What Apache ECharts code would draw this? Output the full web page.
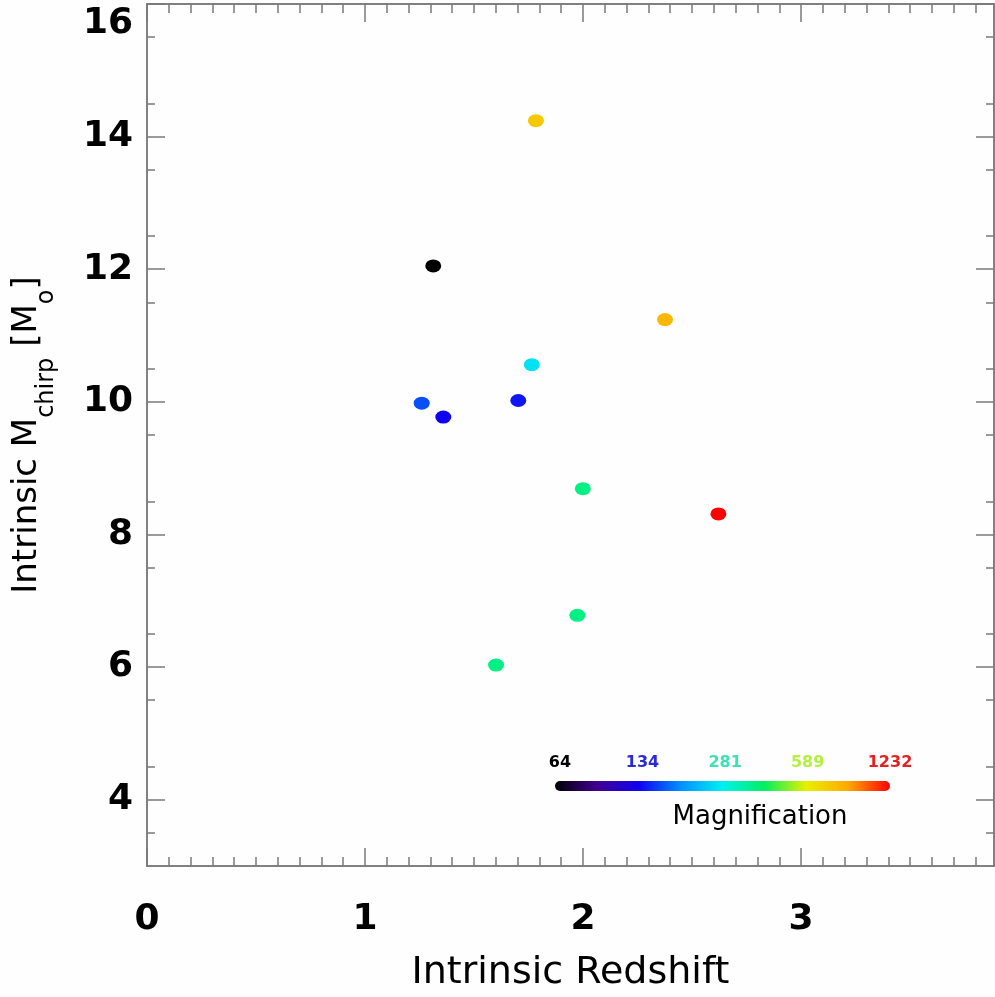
<!DOCTYPE html>
<html><head><meta charset="utf-8">
<script src="https://cdn.jsdelivr.net/npm/echarts@6/dist/echarts.min.js"></script>
<style>html,body{margin:0;padding:0;background:#fdfefd;}#c{width:995px;height:997px;}</style>
</head><body><div id="c"></div>
<script>
// ---- data ----
const redshift      = [1.784, 1.313, 2.376, 1.765, 1.260, 1.359, 1.703, 1.999, 2.621, 1.974, 1.601];
const mchirp        = [14.24, 12.05, 11.24, 10.56, 9.98, 9.77, 10.02, 8.69, 8.31, 6.78, 6.03];
const magnification = [722, 64, 784, 265, 164, 134, 142, 371, 1232, 371, 371];
const xTicks   = [0, 1, 2, 3];
const yTicks   = [4, 6, 8, 10, 12, 14, 16];
const magTicks = [64, 134, 281, 589, 1232];
const magTickColors = ['#000000', '#2a2ad8', '#3ee0b4', '#b4f040', '#e82020'];
const rainbow = ['#000000', '#400090', '#1000f0', '#0090ff', '#00f0f0', '#00f060', '#e8f000', '#ffa800', '#ff0000'];
const xTitle = 'Intrinsic Redshift';
const magTitle = 'Magnification';

const X_MIN = 0, X_MAX = 3.885, Y_MIN = 3, Y_MAX = 16;
const FONT = 'DejaVu Sans';
const AX = '#7a7a7a';

// minor tick positions (axis structure)
const xMinor = [], yMinor = [];
for (let i = 1; i <= 38; i++) if (i % 10) xMinor.push(+(i / 10).toFixed(1));
for (let v = 3.5; v < 16; v += 1) yMinor.push(v);

const lmin = Math.log10(magTicks[0]), lmax = Math.log10(magTicks[magTicks.length - 1]);
const tOf = v => (Math.log10(v) - lmin) / (lmax - lmin);

function xAx(grid, pos, ticks, len, label) {
  return {
    type: 'value', gridIndex: grid, position: pos, min: X_MIN, max: X_MAX,
    axisLine: { show: true, onZero: false, lineStyle: { color: AX, width: 1.5 } },
    axisTick: { show: true, inside: true, length: len, customValues: ticks, lineStyle: { color: AX, width: 1.5 } },
    axisLabel: label ? { show: true, customValues: xTicks, margin: 36, color: '#000', fontSize: 36, fontWeight: 'bold', fontFamily: FONT } : { show: false },
    splitLine: { show: false },
    name: label ? xTitle : '', nameLocation: 'middle', nameGap: 88,
    nameTextStyle: { fontSize: 38, color: '#000', fontFamily: FONT }
  };
}
function yAx(grid, pos, ticks, len, label) {
  return {
    type: 'value', gridIndex: grid, position: pos, min: Y_MIN, max: Y_MAX,
    axisLine: { show: true, onZero: false, lineStyle: { color: AX, width: 1.5 } },
    axisTick: { show: true, inside: true, length: len, customValues: ticks, lineStyle: { color: AX, width: 1.5 } },
    axisLabel: label ? {
      show: true, customValues: yTicks, margin: 14, color: '#000', fontSize: 36, fontWeight: 'bold', fontFamily: FONT,
      formatter: v => v === Y_MAX ? '{top|' + v + '}' : String(v),
      rich: { top: { padding: [40, 0, 0, 0], fontSize: 36, fontWeight: 'bold', fontFamily: FONT, color: '#000' } }
    } : { show: false },
    splitLine: { show: false },
    name: label ? '{a|Intrinsic M}{s|chirp}{a| [M}{s|o}{a|]}' : '', nameLocation: 'middle', nameGap: 88, nameRotate: 90,
    nameTextStyle: {
      color: '#000', fontFamily: FONT,
      rich: {
        a: { fontSize: 34, fontFamily: FONT, color: '#000' },
        s: { fontSize: 24, fontFamily: FONT, color: '#000', padding: [40, 0, 0, 0] }
      }
    }
  };
}

const chart = echarts.init(document.getElementById('c'), null, { renderer: 'canvas' });
const gridBox = { left: 147, top: 4, right: 1, bottom: 131 };
chart.setOption({
  animation: false,
  backgroundColor: '#fdfefd',
  grid: [Object.assign({ containLabel: false }, gridBox), Object.assign({ containLabel: false }, gridBox)],
  xAxis: [
    xAx(0, 'bottom', xTicks, 18, true),
    xAx(0, 'top', xTicks, 18, false),
    xAx(1, 'bottom', xMinor, 9, false),
    xAx(1, 'top', xMinor, 9, false)
  ],
  yAxis: [
    yAx(0, 'left', yTicks, 18, true),
    yAx(0, 'right', yTicks, 18, false),
    yAx(1, 'left', yMinor, 8, false),
    yAx(1, 'right', yMinor, 8, false)
  ],
  visualMap: {
    show: false, type: 'continuous', seriesIndex: 0, dimension: 2,
    min: lmin, max: lmax, inRange: { color: rainbow }
  },
  series: [{
    type: 'scatter', xAxisIndex: 0, yAxisIndex: 0,
    symbol: 'circle', symbolSize: [16, 13],
    itemStyle: { opacity: 1 },
    data: redshift.map((x, i) => [x, mchirp[i], Math.log10(magnification[i]), magnification[i]])
  }],
  graphic: [
    {
      type: 'rect', shape: { x: 555, y: 781, width: 335, height: 10, r: 5 },
      style: { fill: new echarts.graphic.LinearGradient(0, 0, 1, 0, rainbow.map((c, i) => ({ offset: i / (rainbow.length - 1), color: c }))) }
    },
    ...magTicks.map((v, i) => ({
      type: 'text', x: 560 + tOf(v) * 330, y: 763,
      style: { text: String(v), fill: magTickColors[i], font: 'bold 16px "DejaVu Sans"', align: 'center', verticalAlign: 'middle', textAlign: 'center', textVerticalAlign: 'middle' }
    })),
    {
      type: 'text', x: 760, y: 817,
      style: { text: magTitle, fill: '#000', font: '26px "DejaVu Sans"', align: 'center', verticalAlign: 'middle', textAlign: 'center', textVerticalAlign: 'middle' }
    }
  ]
});
</script></body></html>
